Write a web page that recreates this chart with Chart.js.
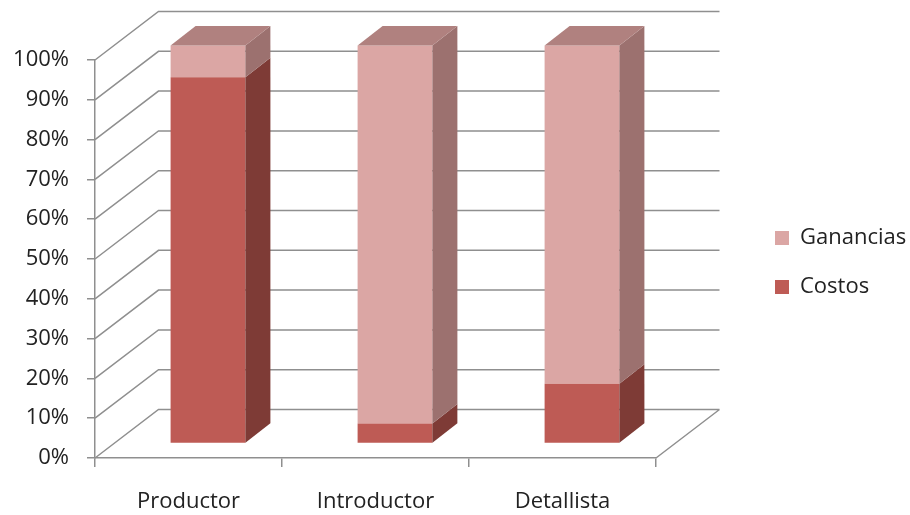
<!DOCTYPE html>
<html>
<head>
<meta charset="utf-8">
<script src="https://cdn.jsdelivr.net/npm/chart.js@4/dist/chart.umd.min.js"></script>
<style>
  html, body { margin: 0; padding: 0; background: #ffffff; }
  #wrap { width: 910px; height: 515px; }
</style>
</head>
<body>
<div id="wrap"><canvas id="chart" width="910" height="515"></canvas></div>
<script>
// Share of price going to costs and profit at each link of the chain (%)
const categories = ['Productor', 'Introductor', 'Detallista'];
const costos = [92, 5, 15];
const ganancias = [8, 95, 85];
const percentTicks = [0, 10, 20, 30, 40, 50, 60, 70, 80, 90, 100];

const TEXT = '#222222';
const LINE = '#8f8f8f';
const FONT = { family: "'Open Sans', sans-serif", size: 22 };

// depth of the walls, offset of the bar row inside the box, and bar depth
const WALL = { dx: 63.5, dy: 48.5 };
const ROW = { dx: 19.5, dy: 14.5 };
const DEPTH = { dx: 25, dy: 19.5 };

function fillPoly(ctx, pts, color) {
  ctx.beginPath();
  ctx.moveTo(pts[0][0], pts[0][1]);
  for (let i = 1; i < pts.length; i++) ctx.lineTo(pts[i][0], pts[i][1]);
  ctx.closePath();
  ctx.fillStyle = color;
  ctx.fill();
}

// Back wall, side wall and floor lines, then extruded side and top faces of the bars
const boxPlugin = {
  id: 'box3d',
  afterLayout(chart) {
    const lg = chart.legend;
    if (!lg) return;
    lg.left = chart.chartArea.right + 92;
    lg.right = chart.width;
    lg.width = lg.right - lg.left;
    lg.top -= 25;
    lg.bottom -= 25;
  },
  beforeDatasetsDraw(chart) {
    const { ctx, chartArea: a, scales: { y } } = chart;
    ctx.save();
    ctx.strokeStyle = LINE;
    ctx.lineWidth = 1.5;
    ctx.beginPath();
    y.ticks.forEach(t => {
      const py = y.getPixelForValue(t.value);
      ctx.moveTo(a.left, py);
      ctx.lineTo(a.left + WALL.dx, py - WALL.dy);
      ctx.lineTo(a.right + WALL.dx, py - WALL.dy);
    });
    const p0 = y.getPixelForValue(0);
    ctx.moveTo(a.right, p0);
    ctx.lineTo(a.right + WALL.dx, p0 - WALL.dy);
    ctx.stroke();
    ctx.restore();

    // the bar row sits part way back inside the box
    ctx.save();
    ctx.translate(ROW.dx, -ROW.dy);
  },
  afterDatasetsDraw(chart) {
    const ctx = chart.ctx;
    const sets = chart.data.datasets;
    sets.forEach((ds, i) => {
      const meta = chart.getDatasetMeta(i);
      meta.data.forEach((bar, j) => {
        const p = bar.getProps(['x', 'y', 'base', 'width'], true);
        const l = p.x - p.width / 2, r = p.x + p.width / 2;
        const top = Math.min(p.y, p.base), bot = Math.max(p.y, p.base);
        if (bot - top < 0.5) return;
        fillPoly(ctx, [[r, bot], [r, top], [r + DEPTH.dx, top - DEPTH.dy], [r + DEPTH.dx, bot - DEPTH.dy]], ds.sideColor);
        let topmost = true;
        for (let k = i + 1; k < sets.length; k++) if (sets[k].data[j] > 0) topmost = false;
        if (topmost) {
          fillPoly(ctx, [[l, top], [r, top], [r + DEPTH.dx, top - DEPTH.dy], [l + DEPTH.dx, top - DEPTH.dy]], ds.topColor);
        }
      });
    });
    ctx.restore();
  }
};

new Chart(document.getElementById('chart'), {
  type: 'bar',
  data: {
    labels: categories,
    datasets: [
      {
        label: 'Costos',
        data: costos,
        backgroundColor: '#be5b55',
        sideColor: '#7e3b36',
        topColor: '#9c4a45',
        borderWidth: 0,
        clip: false
      },
      {
        label: 'Ganancias',
        data: ganancias,
        backgroundColor: '#dba6a4',
        sideColor: '#9c716f',
        topColor: '#b0817f',
        borderWidth: 0,
        clip: false
      }
    ]
  },
  options: {
    responsive: false,
    animation: false,
    devicePixelRatio: 1,
    layout: { padding: { top: 60, left: 0, right: 104, bottom: 0 } },
    datasets: { bar: { categoryPercentage: 1, barPercentage: 0.4 } },
    plugins: {
      tooltip: { enabled: false },
      legend: {
        position: 'right',
        reverse: true,
        maxWidth: 150,
        labels: {
          boxWidth: 14,
          boxHeight: 14,
          padding: 27,
          color: TEXT,
          font: FONT
        }
      }
    },
    scales: {
      x: {
        stacked: true,
        grid: { display: true, drawOnChartArea: false, drawTicks: true, tickLength: 9, color: LINE, lineWidth: 1.5, offset: true },
        border: { display: true, color: LINE, width: 1.5 },
        ticks: { color: TEXT, font: FONT, padding: 22, maxRotation: 0 },
        afterFit(s) { s.height = 57; }
      },
      y: {
        stacked: true,
        min: 0,
        max: 100,
        afterBuildTicks(s) { s.ticks = percentTicks.map(v => ({ value: v })); },
        grid: { display: true, drawOnChartArea: false, drawTicks: true, tickLength: 8, color: LINE, lineWidth: 1.5 },
        border: { display: true, color: LINE, width: 1.5 },
        ticks: { color: TEXT, font: FONT, padding: 18, callback: v => v + '%' },
        afterFit(s) { s.width = 95; }
      }
    }
  },
  plugins: [boxPlugin]
});
</script>
</body>
</html>
